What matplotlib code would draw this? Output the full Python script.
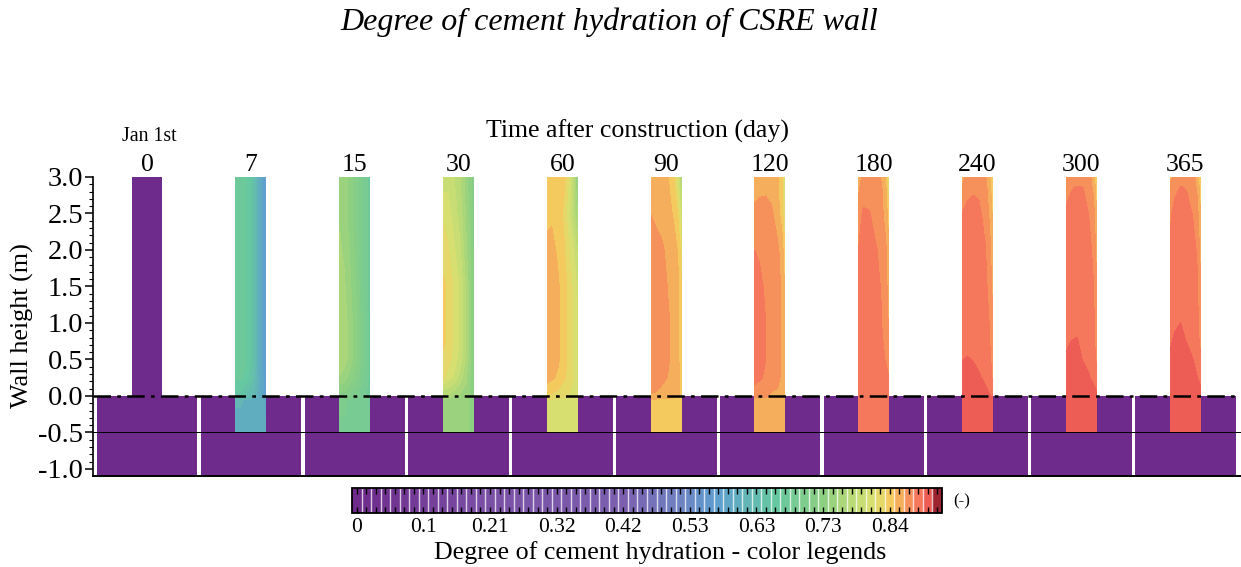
import numpy as np
import matplotlib
matplotlib.use('Agg')
import matplotlib.pyplot as plt
from matplotlib.colors import LinearSegmentedColormap, ListedColormap, BoundaryNorm
from matplotlib.cm import ScalarMappable
from matplotlib.ticker import MultipleLocator

plt.rcParams['font.family'] = ['Liberation Serif', 'DejaVu Serif']

days = ['0', '7', '15', '30', '60', '90', '120', '180', '240', '300', '365']

# heights (m) and position across wall thickness (0 = left face, 1 = right face)
heights = [3.0, 2.85, 2.5, 2.0, 1.5, 1.0, 0.75, 0.5, 0.25, 0.0, -0.05, -0.5]
across = [0, 0.15, 0.35, 0.55, 0.75, 0.9, 1]

wall_0 = [[0.0] * 7] * 12
wall_7 = [
    [.675, .675, .67, .645, .605, .575, .56],
    [.675, .675, .67, .645, .605, .575, .56],
    [.675, .675, .67, .645, .605, .575, .56],
    [.675, .675, .67, .645, .605, .575, .56],
    [.675, .675, .67, .645, .605, .575, .56],
    [.675, .675, .67, .645, .605, .575, .56],
    [.675, .675, .67, .645, .605, .575, .56],
    [.675, .675, .67, .645, .605, .575, .56],
    [.67, .67, .66, .64, .605, .58, .565],
    [.65, .645, .635, .625, .60, .58, .57],
    [.61, .61, .605, .60, .60, .595, .585],
    [.60, .60, .60, .60, .60, .60, .595],
]
wall_15 = [
    [.755, .75, .735, .715, .70, .685, .67],
    [.755, .75, .735, .715, .70, .685, .67],
    [.755, .75, .735, .715, .70, .685, .67],
    [.76, .755, .74, .72, .70, .685, .67],
    [.765, .76, .745, .725, .70, .685, .67],
    [.77, .765, .75, .73, .705, .69, .675],
    [.77, .765, .75, .73, .705, .69, .675],
    [.77, .765, .75, .73, .705, .69, .675],
    [.755, .75, .735, .72, .70, .69, .675],
    [.72, .72, .71, .70, .69, .68, .675],
    [.70, .70, .695, .695, .69, .685, .68],
    [.695, .695, .695, .695, .69, .69, .685],
]
wall_30 = [
    [.80, .80, .79, .775, .75, .73, .72],
    [.80, .80, .79, .775, .75, .73, .72],
    [.815, .81, .795, .78, .755, .735, .72],
    [.825, .82, .805, .79, .76, .74, .725],
    [.835, .83, .815, .80, .77, .745, .725],
    [.835, .83, .815, .80, .77, .745, .725],
    [.835, .83, .815, .80, .77, .745, .725],
    [.83, .825, .81, .795, .77, .745, .73],
    [.82, .81, .80, .78, .76, .74, .73],
    [.77, .77, .76, .755, .75, .74, .73],
    [.75, .75, .745, .745, .745, .74, .735],
    [.745, .745, .745, .745, .745, .74, .735],
]
wall_60 = [
    [.84, .84, .84, .84, .81, .77, .74],
    [.84, .84, .84, .835, .81, .77, .745],
    [.845, .845, .84, .83, .80, .775, .76],
    [.85, .852, .845, .835, .815, .80, .785],
    [.855, .855, .85, .84, .825, .81, .80],
    [.855, .855, .85, .84, .825, .81, .805],
    [.855, .855, .85, .84, .825, .81, .805],
    [.855, .855, .85, .84, .825, .81, .805],
    [.855, .85, .845, .835, .825, .815, .81],
    [.83, .83, .825, .82, .815, .81, .805],
    [.815, .815, .815, .815, .812, .81, .805],
    [.815, .815, .815, .815, .812, .81, .81],
]
wall_90 = [
    [.845, .855, .855, .85, .835, .80, .77],
    [.85, .855, .855, .85, .84, .81, .775],
    [.862, .858, .855, .855, .845, .83, .80],
    [.872, .871, .866, .858, .855, .845, .825],
    [.875, .874, .87, .862, .857, .85, .835],
    [.875, .874, .871, .865, .858, .85, .84],
    [.875, .874, .871, .865, .858, .85, .84],
    [.875, .874, .871, .865, .858, .85, .84],
    [.875, .872, .868, .862, .857, .85, .845],
    [.86, .86, .855, .855, .85, .85, .845],
    [.845, .845, .845, .845, .845, .845, .845],
    [.845, .845, .845, .845, .845, .845, .845],
]
wall_120 = [
    [.85, .855, .855, .855, .85, .835, .80],
    [.855, .858, .86, .858, .85, .835, .80],
    [.868, .87, .868, .865, .855, .84, .815],
    [.8775, .875, .87, .868, .866, .855, .835],
    [.885, .882, .875, .87, .868, .86, .845],
    [.888, .885, .878, .872, .868, .86, .85],
    [.888, .885, .878, .872, .868, .86, .85],
    [.888, .885, .878, .872, .868, .86, .85],
    [.885, .88, .875, .87, .866, .86, .85],
    [.865, .865, .865, .86, .86, .855, .85],
    [.858, .858, .858, .858, .858, .855, .855],
    [.858, .858, .858, .858, .858, .858, .855],
]
wall_180 = [
    [.85, .87, .87, .87, .86, .845, .81],
    [.86, .87, .87, .87, .865, .85, .82],
    [.87, .88, .8785, .873, .868, .855, .84],
    [.878, .882, .88, .879, .874, .865, .85],
    [.88, .884, .884, .88, .877, .868, .855],
    [.884, .885, .885, .882, .878, .872, .86],
    [.885, .885, .885, .882, .879, .875, .865],
    [.885, .885, .885, .883, .88, .877, .87],
    [.885, .885, .885, .885, .883, .88, .878],
    [.885, .885, .885, .885, .885, .885, .885],
    [.885, .885, .885, .885, .885, .885, .885],
    [.885, .885, .885, .885, .885, .885, .885],
]
wall_240 = [
    [.855, .87, .87, .87, .865, .85, .83],
    [.865, .872, .875, .874, .868, .855, .835],
    [.878, .882, .884, .881, .872, .86, .845],
    [.88, .885, .885, .884, .879, .868, .85],
    [.882, .885, .885, .885, .881, .873, .858],
    [.884, .885, .885, .885, .882, .877, .865],
    [.887, .888, .887, .886, .884, .878, .868],
    [.892, .8935, .892, .889, .886, .881, .872],
    [.898, .898, .897, .894, .89, .885, .875],
    [.90, .90, .90, .90, .897, .893, .89],
    [.90, .90, .90, .90, .90, .90, .90],
    [.90, .90, .90, .90, .90, .90, .90],
]
wall_300 = [
    [.86, .87, .87, .87, .868, .855, .835],
    [.872, .876, .879, .878, .87, .86, .84],
    [.88, .884, .885, .883, .877, .868, .85],
    [.883, .885, .885, .885, .881, .875, .858],
    [.884, .885, .885, .885, .883, .878, .865],
    [.886, .889, .889, .886, .884, .881, .87],
    [.889, .8925, .8935, .889, .885, .882, .872],
    [.895, .897, .896, .892, .888, .884, .875],
    [.90, .90, .90, .898, .894, .889, .885],
    [.90, .90, .90, .90, .90, .90, .895],
    [.90, .90, .90, .90, .90, .90, .90],
    [.90, .90, .90, .90, .90, .90, .90],
]
wall_365 = [
    [.855, .87, .875, .87, .87, .855, .84],
    [.865, .875, .878, .877, .87, .86, .84],
    [.875, .881, .884, .881, .877, .868, .85],
    [.88, .885, .885, .885, .882, .876, .858],
    [.885, .885, .887, .885, .883, .879, .867],
    [.885, .89, .8925, .888, .885, .881, .872],
    [.89, .895, .896, .892, .886, .882, .875],
    [.895, .898, .90, .897, .893, .888, .88],
    [.90, .90, .90, .90, .897, .893, .888],
    [.90, .90, .90, .90, .90, .90, .90],
    [.90, .90, .90, .90, .90, .90, .90],
    [.90, .90, .90, .90, .90, .90, .90],
]
walls = [wall_0, wall_7, wall_15, wall_30, wall_60, wall_90, wall_120,
         wall_180, wall_240, wall_300, wall_365]

# colour legend
cb_ticks = [0, .105, .21, .315, .42, .525, .63, .735, .84]
cb_labels = ['0', '0.1', '0.21', '0.32', '0.42', '0.53', '0.63', '0.73', '0.84']
cmap_values = [0, .2, .42, .5, .57, .66, .74, .81, .84, .855, .87, .885, .90, .915]
cmap_colors = ['#6e2b8b', '#7a4fa5', '#7b5fae', '#6f7fc0', '#5fa0cf', '#66c8a0', '#90d080',
               '#d5e070', '#f4d060', '#f5b45c', '#f6955c', '#f5795c', '#f25f58', '#9c2430']

step = 0.015
levels = -step / 2 + step * np.arange(63)
centres = step * np.arange(62)
base = LinearSegmentedColormap.from_list(
    'hyd', [(v / cmap_values[-1], c) for v, c in zip(cmap_values, cmap_colors)])
cmap = ListedColormap([base(min(v / cmap_values[-1], 1)) for v in centres])
norm = BoundaryNorm(levels, 62)
purple = '#6f2b8c'

W, H = 1241, 567
fig = plt.figure(figsize=(W / 100, H / 100), dpi=100)
ax = fig.add_axes([93 / W, 1 - 476 / H, (W - 93) / W, (476 - 177) / H])
ax.set_xlim(-0.0385, 11.02)
ax.set_ylim(-1.096, 3.0)

# foundation panels
for i in range(len(days)):
    ax.bar(i, 1.096, width=0.968, bottom=-1.096, align='edge', color=purple, linewidth=0, zorder=1)

wall_w = 0.29
for i, table in enumerate(walls):
    left = i + 0.482 - wall_w / 2
    X, Y = np.meshgrid(left + np.array(across) * wall_w, heights)
    ax.contourf(X, Y, np.array(table), levels=levels, cmap=cmap, norm=norm, zorder=2)

ax.axhline(0, color='black', lw=1.8, ls=(0, (7, 2.5, 1.5, 2.5)), zorder=4)
ax.axhline(-0.5, color='black', lw=0.7, zorder=4)

for s in ['top', 'right']:
    ax.spines[s].set_visible(False)
ax.spines['left'].set_linewidth(1.2)
ax.spines['bottom'].set_linewidth(1.4)
ax.set_yticks(np.arange(-1, 3.01, 0.5))
ax.set_yticklabels(['-1.0', '-0.5', '0.0', '0.5', '1.0', '1.5', '2.0', '2.5', '3.0'], fontsize=20.5)
ax.yaxis.set_minor_locator(MultipleLocator(0.1))
ax.tick_params(axis='y', which='major', length=6, width=1.1, pad=1)
ax.tick_params(axis='y', which='minor', length=3, width=0.8)
ax.xaxis.tick_top()
ax.set_xticks(np.arange(len(days)) + 0.482)
ax.set_xticklabels(days, fontsize=18.5)
ax.tick_params(axis='x', length=0, pad=0.5)

fig.text(22 / W, 1 - 326 / H, 'Wall height (m)', rotation=90, ha='center', va='center', fontsize=18.8)
fig.text(638 / W, 1 - 131 / H, 'Time after construction (day)', ha='center', va='center', fontsize=18.6)
fig.text(149 / W, 1 - 137 / H, 'Jan 1st', ha='center', va='center', fontsize=14.3)
fig.text(609 / W, 1 - 22 / H, 'Degree of cement hydration of CSRE wall', ha='center', va='center',
         fontsize=23, style='italic')

cax = fig.add_axes([352 / W, 1 - 513 / H, 590 / W, 25 / H])
cb = fig.colorbar(ScalarMappable(norm=norm, cmap=cmap), cax=cax, orientation='horizontal',
                  spacing='proportional', ticks=cb_ticks, drawedges=True)
cb.dividers.set_color('white')
cb.dividers.set_alpha(0.75)
cb.dividers.set_linewidth(1.0)
cb.outline.set_linewidth(1.3)
cb.ax.set_xticks(cb_ticks)
cb.ax.set_xticklabels(cb_labels, fontsize=15.5)
cb.ax.xaxis.set_minor_locator(MultipleLocator(step))
cb.ax.tick_params(axis='x', which='major', direction='in', top=True, bottom=True, length=4, width=1, pad=3.5)
cb.ax.tick_params(axis='x', which='minor', direction='in', top=True, bottom=True, length=4, width=1)
fig.text(962 / W, 1 - 501 / H, '(-)', ha='center', va='center', fontsize=12)
fig.text(660 / W, 1 - 553 / H, 'Degree of cement hydration - color legends', ha='center', va='center', fontsize=18.7)

fig.savefig('out.png', dpi=100)
